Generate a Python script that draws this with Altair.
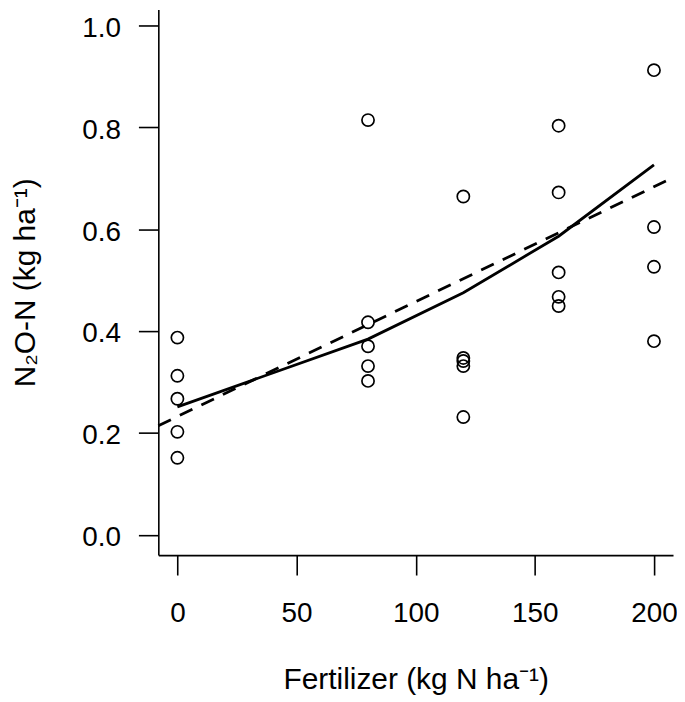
import altair as alt
import pandas as pd

# ---- data ----
fert_levels = [0, 80, 120, 160, 200]
obs_x = [0, 0, 0, 0, 0,
         80, 80, 80, 80, 80,
         120, 120, 120, 120, 120,
         160, 160, 160, 160, 160,
         200, 200, 200, 200]
obs_y = [0.387, 0.312, 0.267, 0.202, 0.151,
         0.814, 0.417, 0.370, 0.331, 0.302,
         0.664, 0.347, 0.341, 0.331, 0.231,
         0.803, 0.672, 0.515, 0.467, 0.449,
         0.912, 0.604, 0.526, 0.380]
fit_curve_y = [0.251, 0.384, 0.475, 0.586, 0.726]
lin_x = [-8, 208]
lin_y = [0.214, 0.701]
x_ticks = [0, 50, 100, 150, 200]
y_ticks = [0.0, 0.2, 0.4, 0.6, 0.8, 1.0]

pts = pd.DataFrame({"x": obs_x, "y": obs_y})
curve = pd.DataFrame({"x": fert_levels, "y": fit_curve_y})
lin = pd.DataFrame({"x": lin_x, "y": lin_y})

FONT = "Liberation Sans"

xscale = alt.Scale(domain=[-8, 208], nice=False, zero=False)
yscale = alt.Scale(domain=[-0.04, 1.031], nice=False, zero=False)

xaxis = alt.Axis(
    title="Fertilizer (kg N ha⁻¹)", values=x_ticks, format="d",
    grid=False, domainColor="black", domainWidth=1.6,
    tickColor="black", tickWidth=1.6, tickSize=20,
    labelFont=FONT, labelFontSize=28, labelColor="black", labelPadding=25,
    labelFlush=False, labelOverlap=False,
    titleFont=FONT, titleFontSize=30, titleFontWeight="normal", titleColor="black",
    titleBaseline="alphabetic", titleY=134,
)
yaxis = alt.Axis(
    title="N₂O-N (kg ha⁻¹)", values=y_ticks, format=".1f",
    grid=False, domainColor="black", domainWidth=1.6,
    tickColor="black", tickWidth=1.6, tickSize=20,
    labelFont=FONT, labelFontSize=28, labelColor="black", labelPadding=18,
    labelOffset=3, labelFlush=False, labelOverlap=False,
    titleFont=FONT, titleFontSize=30, titleFontWeight="normal", titleColor="black",
    titleBaseline="alphabetic", titleX=-124,
)

points = alt.Chart(pts).mark_point(
    shape="circle", filled=False, size=150, strokeWidth=1.7, color="black", opacity=1
).encode(
    x=alt.X("x:Q", scale=xscale, axis=xaxis),
    y=alt.Y("y:Q", scale=yscale, axis=yaxis),
)

solid = alt.Chart(curve).mark_line(color="black", strokeWidth=2.8).encode(
    x=alt.X("x:Q", scale=xscale, axis=xaxis),
    y=alt.Y("y:Q", scale=yscale, axis=yaxis),
)

dashed = alt.Chart(lin).mark_line(color="black", strokeWidth=2.8, strokeDash=[14, 10]).encode(
    x=alt.X("x:Q", scale=xscale, axis=xaxis),
    y=alt.Y("y:Q", scale=yscale, axis=yaxis),
)

chart = alt.layer(points, solid, dashed).properties(
    width=517, height=548,
    autosize=alt.AutoSizeParams(type="none"),
    padding={"left": 151, "top": 0, "right": 4, "bottom": 144},
    background="white",
).configure_view(stroke=None)

chart.save("out.html", embed_options={"renderer": "svg", "actions": False})
